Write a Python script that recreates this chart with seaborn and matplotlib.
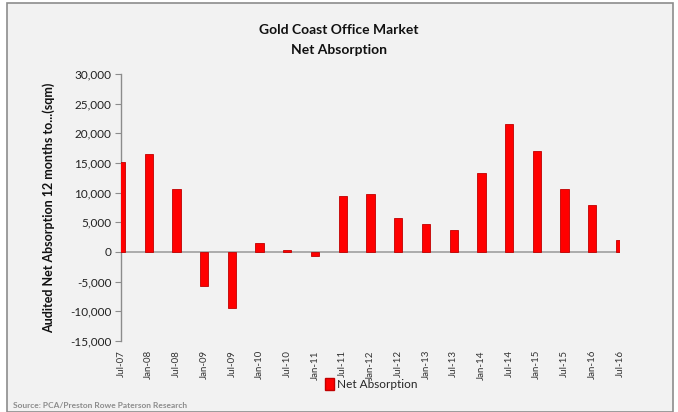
import matplotlib
matplotlib.use('Agg')
import matplotlib.pyplot as plt
import seaborn as sns
import pandas as pd
from matplotlib.patches import Rectangle, Patch
from matplotlib.ticker import FuncFormatter

# 데이터
periods = ['Jul-07', 'Jan-08', 'Jul-08', 'Jan-09', 'Jul-09', 'Jan-10', 'Jul-10',
           'Jan-11', 'Jul-11', 'Jan-12', 'Jul-12', 'Jan-13', 'Jul-13', 'Jan-14',
           'Jul-14', 'Jan-15', 'Jul-15', 'Jan-16', 'Jul-16']
net_absorption = [15200, 16600, 10700, -5800, -9500, 1450, 300,
                  -650, 9400, 9750, 5700, 4700, 3650, 13350,
                  21500, 17100, 10700, 7950, 2050]

df = pd.DataFrame({'period': periods, 'value': net_absorption})

sns.set_style('white')
plt.rcParams['font.family'] = ['Lato', 'DejaVu Sans']

bg = '#f2f2f2'
fig = plt.figure(figsize=(6.78, 4.12), dpi=100, facecolor='white')
frame = Rectangle((7 / 678, 0), 666 / 678, 1 - 3 / 412, transform=fig.transFigure,
                  facecolor=bg, edgecolor='#8c8c8c', linewidth=1.2, zorder=-10)
fig.add_artist(frame)

ax = fig.add_axes([121 / 678, 1 - 341 / 412, (620 - 121) / 678, (341 - 74) / 412])
ax.set_zorder(1)
ax.set_facecolor(bg)

sns.barplot(data=df, x='period', y='value', color='#ff0000', width=0.3,
            edgecolor='#c00000', linewidth=0.6, saturation=1, ax=ax, zorder=3)

ax.set_xlim(0, len(periods) - 1)
ax.set_ylim(-15000, 30000)
ax.set_yticks(range(-15000, 30001, 5000))
ax.yaxis.set_major_formatter(FuncFormatter(lambda v, p: f'{int(v):,}'))
ax.axhline(0, color='#a0a0a0', linewidth=1.2, zorder=2)

for s in ['top', 'right', 'bottom']:
    ax.spines[s].set_visible(False)
ax.spines['left'].set_color('#8c8c8c')
ax.spines['left'].set_linewidth(1)

ax.tick_params(axis='y', left=True, length=4, color='#8c8c8c', labelsize=8.5,
               labelcolor='#222222', pad=3)
ax.tick_params(axis='x', bottom=False, labelsize=7, labelcolor='#333333', pad=3)
for lbl in ax.get_xticklabels():
    lbl.set_rotation(90)

ax.set_xlabel('')
ax.set_ylabel('Audited Net Absorption 12 months to...(sqm)', fontsize=9,
              fontweight='bold', color='#111111', labelpad=11)

fig.text(0.5, 1 - 30 / 412, 'Gold Coast Office Market', ha='center', va='center',
         fontsize=10, fontweight='bold', color='#111111')
fig.text(0.5, 1 - 50 / 412, 'Net Absorption', ha='center', va='center',
         fontsize=10, fontweight='bold', color='#111111')

handle = Patch(facecolor='#ff0000', edgecolor='#c00000', label='Net Absorption')
fig.legend(handles=[handle], loc='center', bbox_to_anchor=(371 / 678, 1 - 384 / 412),
           frameon=False, fontsize=8.5, handlelength=0.8, handleheight=1.2,
           handletextpad=0.2)

fig.text(13 / 678, 1 - 405 / 412, 'Source: PCA/Preston Rowe Paterson Research',
         ha='left', va='center', fontsize=6, color='#8c8c8c', fontweight='bold')

plt.savefig('out.png', dpi=100, facecolor='white')
